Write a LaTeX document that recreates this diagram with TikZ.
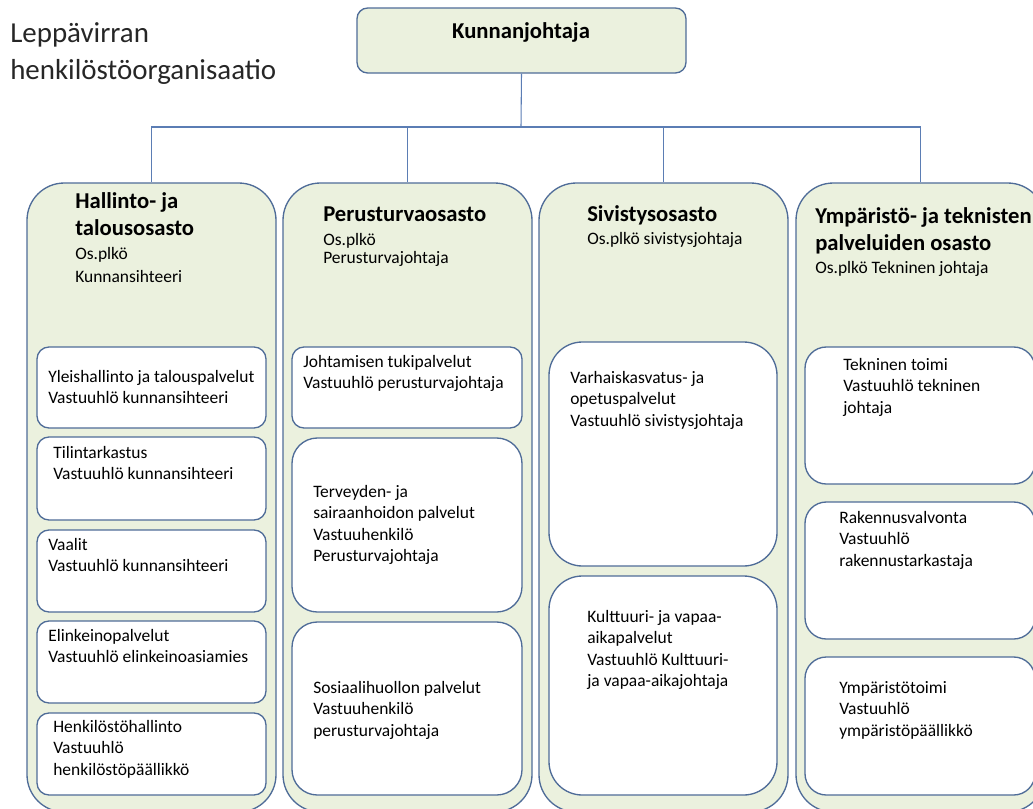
\documentclass[tikz,border=0pt]{standalone}
\usepackage{fontspec}
\setmainfont{Carlito}
\usepackage{xcolor}
\usetikzlibrary{positioning,fit}
\definecolor{deptfill}{RGB}{235,241,222}
\definecolor{edgeblue}{RGB}{79,108,152}
\definecolor{linkblue}{RGB}{91,125,180}
\definecolor{titlegray}{RGB}{38,38,38}

\begin{document}
\begin{tikzpicture}[x=0.75pt, y=-0.75pt,
  dept/.style={rectangle, draw=edgeblue, fill=deptfill, line width=1pt, inner sep=0pt, rounded corners=#1},
  dept/.default=28pt,
  unit/.style={rectangle, draw=edgeblue, fill=white, line width=1pt, inner sep=0pt, rounded corners=#1},
  unit/.default=9pt,
  head/.style={inner sep=0pt, align=left, anchor=north west, font=\fontsize{17}{20.2}\selectfont\bfseries, execute at end node=\strut},
  txt/.style={inner sep=0pt, align=left, anchor=north west, font=\fontsize{13.1}{16.1}\selectfont},
  link/.style={draw=linkblue, line width=0.8pt}]

\useasboundingbox (0,0) rectangle (1033,808);
\clip (0,0) rectangle (1033,808);

%%% title
\node [inner sep=0pt, align=left, anchor=north west, font=\fontsize{21.7}{27.75}\selectfont, text=titlegray] (title) at (10,22) {Leppävirran\\henkilöstöorganisaatio};

%%% KUNNANJOHTAJA
\node [dept=8pt, fit={(357,8) (686,73)}] (kj) {};
\node [head, anchor=north] (kj-t) at (521,19) {Kunnanjohtaja};

%%% departments
\node [dept, fit={(27,183) (276,812)}] (hal) {};
\node [dept, fit={(283,183) (532,812)}] (per) {};
\node [dept, fit={(539,183) (788,812)}] (siv) {};
\node [dept, fit={(796,183) (1045,812)}] (ymp) {};

\node [head] (hal-t) at (75,192) {Hallinto- ja\\talousosasto};
\node [txt, font=\fontsize{13.1}{17.2}\selectfont, below=3pt of hal-t.south west, anchor=north west] (hal-s) {Os.plkö\\Kunnansihteeri};
\node [head] (per-t) at (323,202) {Perusturvaosasto};
\node [txt, font=\fontsize{13.1}{13.5}\selectfont, below=3pt of per-t.south west, anchor=north west] (per-s) {Os.plkö\\Perusturvajohtaja};
\node [head] (siv-t) at (587,202) {Sivistysosasto};
\node [txt, below=2pt of siv-t.south west, anchor=north west] (siv-s) {Os.plkö sivistysjohtaja};
\node [head] (ymp-t) at (815,207) {Ympäristö- ja teknisten\\palveluiden osasto};
\node [txt, below=2pt of ymp-t.south west, anchor=north west] (ymp-s) {Os.plkö Tekninen johtaja};

%%% HALLINTO
\node [unit, fit={(37,347) (266,428)}] (hal-1) {};
\node [txt] (hal-1t) at (48,370) {Yleishallinto ja talouspalvelut\\Vastuuhlö kunnansihteeri};
\node [unit, fit={(37,437) (266,520)}] (hal-2) {};
\node [txt] (hal-2t) at (53,446) {Tilintarkastus\\Vastuuhlö kunnansihteeri};
\node [unit, fit={(37,530) (266,612)}] (hal-3) {};
\node [txt] (hal-3t) at (48,538) {Vaalit\\Vastuuhlö kunnansihteeri};
\node [unit, fit={(37,621) (266,703)}] (hal-4) {};
\node [txt] (hal-4t) at (48,629) {Elinkeinopalvelut\\Vastuuhlö elinkeinoasiamies};
\node [unit, fit={(37,713) (266,795)}] (hal-5) {};
\node [txt] (hal-5t) at (53,720) {Henkilöstöhallinto\\Vastuuhlö\\henkilöstöpäällikkö};

%%% PERUSTURVA
\node [unit, fit={(292,347) (522,428)}] (per-1) {};
\node [txt] (per-1t) at (303,355) {Johtamisen tukipalvelut\\Vastuuhlö perusturvajohtaja};
\node [unit=19pt, fit={(292,438) (522,612)}] (per-2) {};
\node [txt] (per-2t) at (313,485) {Terveyden- ja\\sairaanhoidon palvelut\\Vastuuhenkilö\\Perusturvajohtaja};
\node [unit=19pt, fit={(292,622) (522,795)}] (per-3) {};
\node [txt] (per-3t) at (313,681) {Sosiaalihuollon palvelut\\Vastuuhenkilö\\perusturvajohtaja};

%%% SIVISTYS
\node [unit=25pt, fit={(549,342) (777,566)}] (siv-1) {};
\node [txt] (siv-1t) at (570,371) {Varhaiskasvatus- ja\\opetuspalvelut\\Vastuuhlö sivistysjohtaja};
\node [unit=25pt, fit={(549,576) (777,795)}] (siv-2) {};
\node [txt] (siv-2t) at (587,610) {Kulttuuri- ja vapaa-\\aikapalvelut\\Vastuuhlö Kulttuuri-\\ja vapaa-aikajohtaja};

%%% YMPARISTO
\node [unit=16pt, fit={(805,347) (1035,484)}] (ymp-1) {};
\node [txt] (ymp-1t) at (843,358) {Tekninen toimi\\Vastuuhlö tekninen\\johtaja};
\node [unit=16pt, fit={(805,502) (1035,639)}] (ymp-2) {};
\node [txt] (ymp-2t) at (839,511) {Rakennusvalvonta\\Vastuuhlö\\rakennustarkastaja};
\node [unit=16pt, fit={(805,657) (1035,795)}] (ymp-3) {};
\node [txt] (ymp-3t) at (839,681) {Ympäristötoimi\\Vastuuhlö\\ympäristöpäällikkö};

%%% connections
\coordinate (bus) at (521,127);
\draw [link] (kj.south) -- (bus);
\foreach \dept in {hal,per,siv,ymp}
  \draw [link] (bus) -| (\dept.north);

\end{tikzpicture}
\end{document}
